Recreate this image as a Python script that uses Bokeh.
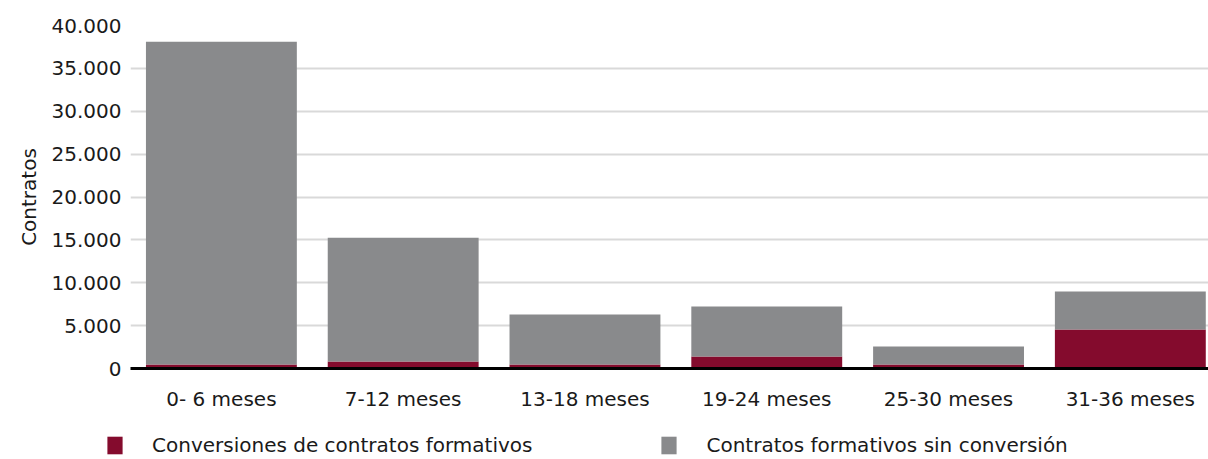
from bokeh.plotting import figure
from bokeh.layouts import column, row
from bokeh.models import ColumnDataSource, Range1d, FixedTicker, Legend, LegendItem
from bokeh.embed import file_html
from bokeh.resources import INLINE

categories = ["0- 6 meses", "7-12 meses", "13-18 meses", "19-24 meses", "25-30 meses", "31-36 meses"]
conversiones = [470, 815, 470, 1400, 470, 4550]
sin_conversion = [37630, 14435, 5830, 5830, 2100, 4430]
y_ticks = [0, 5000, 10000, 15000, 20000, 25000, 30000, 35000, 40000]
y_tick_labels = ["0", "5.000", "10.000", "15.000", "20.000", "25.000", "30.000", "35.000", "40.000"]
series_names = ["Conversiones de contratos formativos", "Contratos formativos sin conversión"]
colors = ["#840B2D", "#898A8C"]

FONT = "DejaVu Sans"
FS = "20px"
TXT = "#1a1a1a"

x_pos = [i + 0.5 for i in range(len(categories))]
src = ColumnDataSource(dict(x=x_pos, conv=conversiones, sin=sin_conversion))

p = figure(width=1208, height=415, output_backend="svg", toolbar_location=None,
           x_range=Range1d(0, 5.93), y_range=Range1d(0, 40000),
           min_border_left=130, min_border_right=0, min_border_top=25, min_border_bottom=47)
p.outline_line_color = None
p.background_fill_color = "white"

rs = p.vbar_stack(["conv", "sin"], x="x", width=0.83, color=colors, line_color=None, source=src)

# x axis
p.xaxis.ticker = FixedTicker(ticks=x_pos)
p.xaxis.major_label_overrides = {x: c for x, c in zip(x_pos, categories)}
p.xaxis.axis_line_color = "black"
p.xaxis.axis_line_width = 3
p.xaxis.major_tick_line_color = None
p.xaxis.minor_tick_line_color = None
p.xaxis.major_label_standoff = 12
p.xaxis.major_label_text_font = FONT
p.xaxis.major_label_text_font_size = FS
p.xaxis.major_label_text_color = TXT
p.xgrid.grid_line_color = None

# y axis
p.yaxis.ticker = FixedTicker(ticks=y_ticks)
p.yaxis.major_label_overrides = {t: l for t, l in zip(y_ticks, y_tick_labels)}
p.yaxis.axis_line_color = None
p.yaxis.major_tick_line_color = None
p.yaxis.minor_tick_line_color = None
p.yaxis.major_label_standoff = 3
p.yaxis.major_label_text_font = FONT
p.yaxis.major_label_text_font_size = FS
p.yaxis.major_label_text_color = TXT
p.yaxis.axis_label = "Contratos"
p.yaxis.axis_label_text_font = FONT
p.yaxis.axis_label_text_font_size = FS
p.yaxis.axis_label_text_font_style = "normal"
p.yaxis.axis_label_text_color = TXT
p.yaxis.axis_label_standoff = 8
p.ygrid.grid_line_color = "#d9d9d9"
p.ygrid.grid_line_width = 2

# legend strip (separate figure below; its bars lie outside its view)
p2 = figure(width=1208, height=44, output_backend="svg", toolbar_location=None,
            x_range=Range1d(0, 1), y_range=Range1d(1e6, 2e6),
            x_axis_location=None, y_axis_location=None,
            min_border_left=0, min_border_right=0, min_border_top=0, min_border_bottom=0)
p2.grid.visible = False
p2.outline_line_color = None
rs2 = p2.vbar_stack(["conv", "sin"], x="x", width=0.83, color=colors, line_color=None, source=src)

legend = Legend(items=[LegendItem(label=n, renderers=[r]) for n, r in zip(series_names, rs2)],
                location=(105, 2), orientation="horizontal", border_line_color=None,
                background_fill_alpha=0, padding=0, margin=0, spacing=127,
                glyph_width=19, glyph_height=22, label_height=22, label_standoff=28,
                label_text_font=FONT, label_text_font_size=FS, label_text_color=TXT)
p2.add_layout(legend, "center")

layout = column(p, row(p2, spacing=0), spacing=0)
open("out.html", "w").write(file_html(layout, INLINE))
